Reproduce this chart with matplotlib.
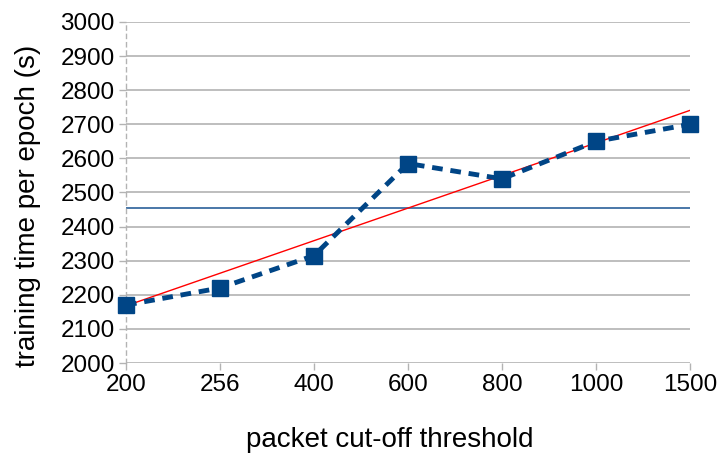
import numpy as np
import matplotlib
matplotlib.use("Agg")
import matplotlib.pyplot as plt

plt.rcParams['font.family'] = ['Liberation Sans', 'DejaVu Sans']

categories = ['200', '256', '400', '600', '800', '1000', '1500']
times = [2170, 2220, 2315, 2585, 2540, 2650, 2700]
y_ticks = [2000, 2100, 2200, 2300, 2400, 2500, 2600, 2700, 2800, 2900, 3000]

x = np.arange(len(categories))
y = np.array(times, dtype=float)

fig = plt.figure(figsize=(7.2, 4.53), dpi=100)
ax = fig.add_axes([126/720, 1 - 363/453, (690-126)/720, (363-22)/453])

ax.set_xlim(0, len(categories) - 1)
ax.set_ylim(y_ticks[0], y_ticks[-1])
ax.set_yticks(y_ticks)
ax.set_xticks(x)
ax.set_xticklabels(categories)

ax.grid(axis='y', color='#b3b3b3', linewidth=1.2)
ax.set_axisbelow(True)
for s in ['top', 'right', 'bottom']:
    ax.spines[s].set_visible(False)
ax.spines['left'].set_color('#b3b3b3')
ax.spines['left'].set_linestyle((0, (3, 3)))
ax.spines['left'].set_linewidth(1)
ax.tick_params(axis='both', colors='#b3b3b3', length=5, width=1, labelsize=17.5, labelcolor='black', pad=3)

# mean line
ax.plot([x[0], x[-1]], [y.mean()] * 2, color='#2a6099', linewidth=1.2, zorder=2)
# linear trend
coef = np.polyfit(x, y, 1)
ax.plot([x[0], x[-1]], np.polyval(coef, [x[0], x[-1]]), color='#ff0000', linewidth=1, zorder=3)
# data
ax.plot(x, y, color='#004586', linewidth=3.5, linestyle=(0, (2.2, 1.6)),
        marker='s', markersize=11, zorder=4, clip_on=False)

ax.set_ylabel('training time per epoch (s)', fontsize=20, labelpad=14)
ax.set_xlabel('packet cut-off threshold', fontsize=20, labelpad=22)
ax.xaxis.label.set_x(0.467)
ax.yaxis.label.set_y(0.46)

fig.savefig('out.png', dpi=100)
